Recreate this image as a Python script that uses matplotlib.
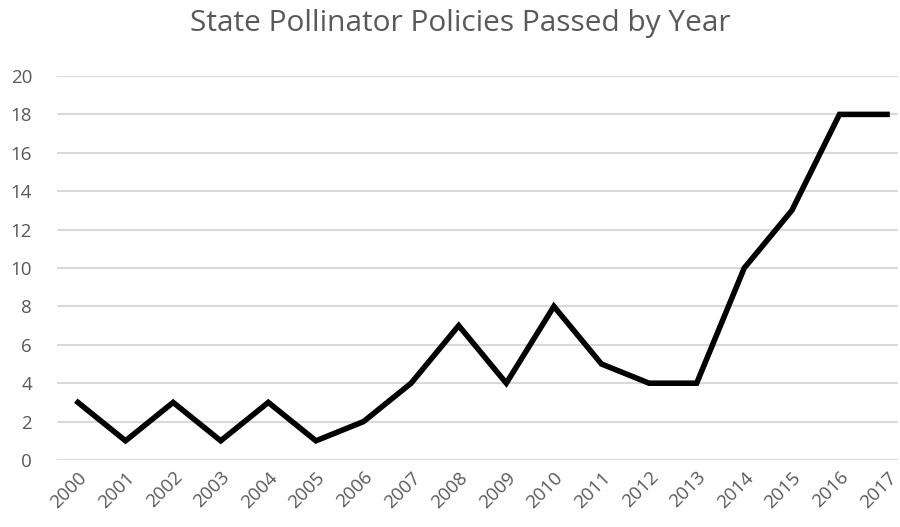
import matplotlib.pyplot as plt

years = [str(y) for y in range(2000, 2018)]
policies = [3, 1, 3, 1, 3, 1, 2, 4, 7, 4, 8, 5, 4, 4, 10, 13, 18, 18]

plt.rcParams['font.family'] = ['Open Sans', 'DejaVu Sans']
text_color = '#595959'

fig = plt.figure(figsize=(9, 5.27), dpi=100)
ax = fig.add_axes([57 / 900, 67 / 527, 841 / 900, 384 / 527])

x = list(range(len(years)))
ax.plot(x, policies, color='black', linewidth=4, solid_joinstyle='miter')

ax.set_xlim(-0.44, 17.23)
ax.set_ylim(0, 20)
ax.set_yticks(range(0, 21, 2))
ax.set_xticks(x)
ax.set_xticklabels(years, rotation=45, ha='right', rotation_mode='anchor')
ax.tick_params(axis='both', length=0, labelsize=13.5, colors=text_color)
ax.tick_params(axis='x', pad=6)
ax.tick_params(axis='y', pad=18)
ax.grid(axis='y', color='#d9d9d9', linewidth=1.5)
ax.set_axisbelow(True)
for s in ax.spines.values():
    s.set_visible(False)

fig.text(0.511, 0.955, 'State Pollinator Policies Passed by Year',
         ha='center', va='center', fontsize=21.5, color=text_color)

fig.savefig('out.png', dpi=100)
